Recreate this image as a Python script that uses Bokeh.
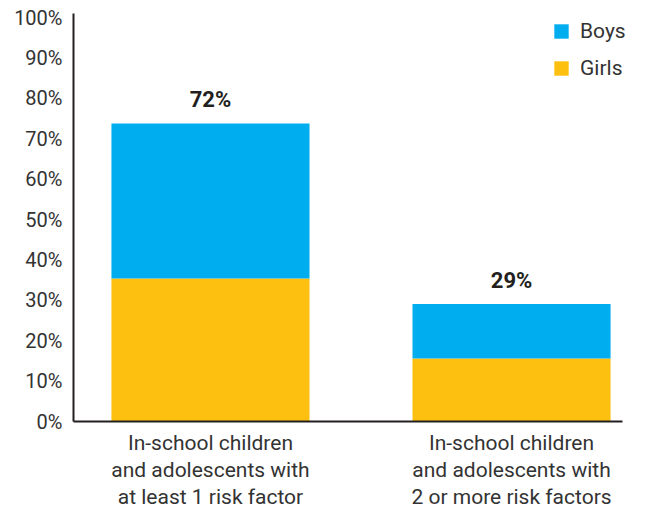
from bokeh.plotting import figure
from bokeh.models import (ColumnDataSource, Range1d, FixedTicker, PrintfTickFormatter,
                          Legend, LegendItem)
from bokeh.core.properties import value
from bokeh.embed import file_html
from bokeh.resources import INLINE

# ---- data ----
categories = ["In-school children\nand adolescents with\nat least 1 risk factor",
              "In-school children\nand adolescents with\n2 or more risk factors"]
xpos = [1, 2]
girls = [35.4, 15.6]
boys = [38.4, 13.5]
total_labels = ["72%", "29%"]
y_ticks = [0, 10, 20, 30, 40, 50, 60, 70, 80, 90, 100]

BOYS_C = "#00AEEF"
GIRLS_C = "#FDC010"
TXT = "#333333"
FONT = "Roboto"

totals = [g + b for g, b in zip(girls, boys)]
src = ColumnDataSource(dict(x=xpos, girls=girls, boys=boys, total=totals, lab=total_labels))

p = figure(width=645, height=516, output_backend="svg", toolbar_location=None,
           x_range=Range1d(0.545, 2.445), y_range=Range1d(0, 101))
p.min_border_left = 73
p.min_border_right = 0
p.min_border_top = 13
p.min_border_bottom = 95
p.outline_line_color = None
p.xgrid.visible = False
p.ygrid.visible = False
p.background_fill_color = "white"
p.border_fill_color = "white"

r = p.vbar_stack(["girls", "boys"], x="x", width=0.658, source=src,
                 color=[GIRLS_C, BOYS_C], line_color=None)

p.text(x="x", y="total", text="lab", source=src, text_align="center",
       text_baseline="bottom", y_offset=-11, text_font=value(FONT),
       text_font_style="bold", text_font_size="22px", text_color="#231f20")

# axes
p.yaxis.ticker = FixedTicker(ticks=y_ticks)
p.yaxis.formatter = PrintfTickFormatter(format="%d%%")
p.yaxis.major_tick_line_color = None
p.yaxis.minor_tick_line_color = None
p.yaxis.axis_line_color = "#231f20"
p.yaxis.axis_line_width = 2
p.yaxis.major_label_text_font = FONT
p.yaxis.major_label_text_font_size = "20px"
p.yaxis.major_label_text_color = TXT
p.yaxis.major_label_standoff = 5

p.xaxis.ticker = FixedTicker(ticks=xpos)
p.xaxis.bounds = (0.545, 2.369)
p.xaxis.major_label_overrides = {x: c for x, c in zip(xpos, categories)}
p.xaxis.major_tick_line_color = None
p.xaxis.minor_tick_line_color = None
p.xaxis.axis_line_color = "#231f20"
p.xaxis.axis_line_width = 2
p.xaxis.major_label_text_font = FONT
p.xaxis.major_label_text_font_size = "21px"
p.xaxis.major_label_text_color = TXT
p.xaxis.major_label_text_line_height = 1.13
p.xaxis.major_label_standoff = 3

legend = Legend(items=[LegendItem(label="Boys", renderers=[r[1]]),
                       LegendItem(label="Girls", renderers=[r[0]])],
                location=(479, 341))
legend.label_text_font = FONT
legend.label_text_font_size = "21px"
legend.label_text_color = TXT
legend.glyph_width = 18
legend.glyph_height = 18
legend.label_height = 18
legend.label_standoff = 10
legend.spacing = 13
legend.padding = 0
legend.margin = 0
legend.border_line_color = None
legend.background_fill_alpha = 0
p.add_layout(legend)

open("out.html", "w").write(file_html(p, INLINE))
